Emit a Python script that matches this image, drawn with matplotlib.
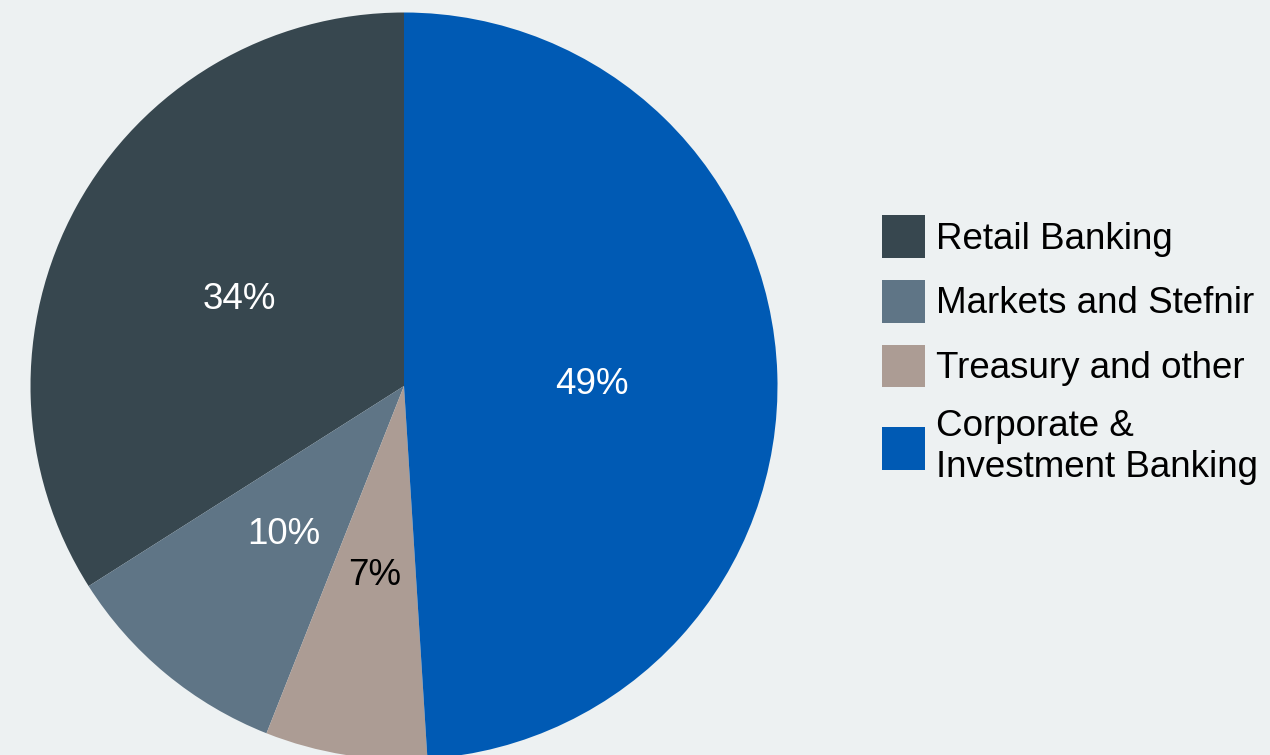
import matplotlib.pyplot as plt

# 部門別の構成比
segments = ['Retail Banking', 'Markets and Stefnir', 'Treasury and other',
            'Corporate &\nInvestment Banking']
shares = [34, 10, 7, 49]
colors = ['#37474F', '#5F7586', '#AC9C94', '#005AB4']
pct_colors = ['white', 'white', 'black', 'white']

bg = '#EDF1F2'
plt.rcParams['font.family'] = ['Liberation Sans', 'DejaVu Sans']

fig = plt.figure(figsize=(12.7, 7.55), dpi=100, facecolor=bg)
ax = fig.add_axes([30.5 / 1270, -4.5 / 755, 747 / 1270, 747 / 755])
ax.set_facecolor(bg)

wedges, texts, pcts = ax.pie(shares, colors=colors, startangle=90,
                             autopct='%.0f%%', pctdistance=0.503,
                             wedgeprops={'linewidth': 0},
                             textprops={'fontsize': 26.5})
for t, c in zip(pcts, pct_colors):
    t.set_color(c)
    t.set_va('center_baseline')
ax.set_xlim(-1, 1)
ax.set_ylim(-1, 1)
ax.set_aspect('equal')

# 凡例
leg = fig.legend(wedges, segments, loc='upper left',
                 bbox_to_anchor=(882 / 1270, 1 - 215 / 755),
                 frameon=False, fontsize=26.5, borderpad=0, borderaxespad=0,
                 handlelength=1.17, handleheight=1.41, handletextpad=0.3,
                 labelspacing=0.6)

plt.savefig('out.png', dpi=100, facecolor=bg)
